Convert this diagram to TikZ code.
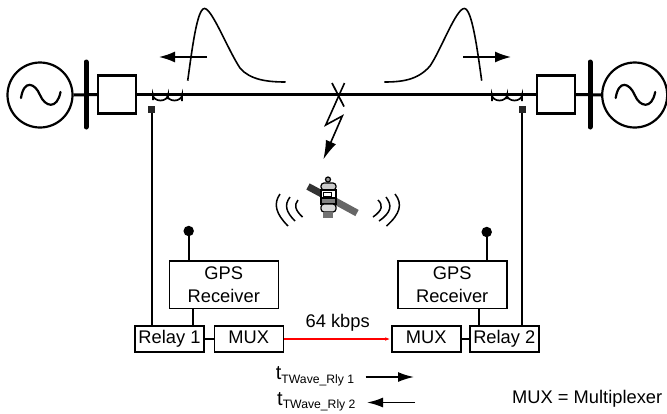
\documentclass[tikz,border=0pt]{standalone}
\usepackage{fontspec}
\setmainfont{Liberation Sans}
\usetikzlibrary{arrows.meta}
\tikzset{
  unitbox/.style={draw,line width=1.6pt,minimum height=26pt,inner sep=0pt,text height=13pt,text depth=4pt,font=\fontsize{18.3}{20}\selectfont},
  gpsbox/.style={draw,line width=1.6pt,minimum width=109pt,minimum height=47.5pt,inner sep=0pt,align=center,font=\fontsize{18.3}{22.7}\selectfont},
  wire/.style={line width=1.7pt},
  mainline/.style={line width=3pt},
  pulse/.style={line width=1.6pt},
  radio/.style={line width=1.5pt},
  sense/.style={fill=black!85,minimum size=7pt,inner sep=0pt},
  txt/.style={font=\fontsize{18.3}{20}\selectfont,inner sep=0pt},
  tlabel/.style={font=\fontsize{20}{22}\selectfont,inner sep=0pt,anchor=base west}
}
\newcommand{\tsub}[1]{\raisebox{-3.5pt}{\fontsize{12.2}{14}\selectfont #1}}
\begin{document}
\begin{tikzpicture}[x=1pt,y=-1pt]
    \useasboundingbox (0,0) rectangle (667,413);

    % generators and buses
    \node[circle,draw,line width=2.2pt,minimum size=65pt,inner sep=0pt] (GL) at (40,95) {};
    \node[circle,draw,line width=2.2pt,minimum size=65pt,inner sep=0pt] (GR) at (634.7,95) {};
    \draw[line width=2.2pt,line cap=round] (21,98) .. controls (24,79) and (35,83) .. (40,95) .. controls (45,107) and (57,110) .. (60.5,92);
    \draw[line width=2.2pt,line cap=round] (615.7,98) .. controls (618.7,79) and (629.7,83) .. (634.7,95) .. controls (639.7,107) and (651.7,110) .. (655.2,92);
    \node[draw,line width=2.4pt,minimum size=38pt,inner sep=0pt] (BKL) at (117,94.5) {};
    \node[draw,line width=2.4pt,minimum size=38pt,inner sep=0pt] (BKR) at (556,94.5) {};

    \draw[mainline] (GL.east) -- (BKL.west);
    \draw[mainline] (BKL.east) -- (BKR.west);
    \draw[mainline] (BKR.east) -- (GR.west);
    \draw[line width=5pt,line cap=round] (86,62) -- (86,127);
    \draw[line width=5pt,line cap=round] (590,62) -- (590,127);

    % current transformers
    \draw[wire] (153,100) -- (153,95) arc[start angle=180,end angle=0,x radius=7.5,y radius=5.5] -- (168,99);
    \draw[wire] (167,95) arc[start angle=180,end angle=0,x radius=7.5,y radius=5.5] -- (182,101);
    \draw[wire] (492,101) -- (492,95) arc[start angle=180,end angle=0,x radius=7.5,y radius=5.5] -- (507,99);
    \draw[wire] (507,95) arc[start angle=180,end angle=0,x radius=7.5,y radius=5.5] -- (522,101);
    \node[sense] (SL) at (151.7,109.5) {};
    \node[sense] (SR) at (522,109.5) {};

    % travelling waves
    \draw[pulse] (187.7,80.7) .. controls (192,50) and (197,8.5) .. (204.5,8.5) .. controls (212,8.5) and (228,50) .. (240,68) .. controls (250,80) and (268,82) .. (285.5,82);
    \draw[pulse] (481.7,80.7) .. controls (477.4,50) and (472,8.5) .. (464.3,8.5) .. controls (456,8.5) and (441,50) .. (430,66) .. controls (418,80) and (402,82) .. (384.3,82);
    \draw[pulse,-{Latex[length=16pt,width=11pt]}] (207,57) -- (159,57);
    \draw[pulse,-{Latex[length=16pt,width=11pt]}] (463,57) -- (511,57);

    % fault and lightning
    \draw[wire] (332,83) -- (344,106.5);
    \draw[line width=1.6pt,-{Latex[length=19pt,width=11pt]}] (344.5,83) -- (325.7,125) -- (342.3,116) -- (323.3,159.5);

    % satellite
    \draw[line width=7pt,black!80] (308,186.5) -- (322,194);
    \draw[line width=7pt,black!60] (335,201) -- (357,213);
    \draw[line width=1.2pt,fill=black!40] (328,179.5) circle (2.5pt);
    \draw[line width=1.2pt,fill=black!20,rounded corners=3pt] (321,183) rectangle (336,190);
    \draw[line width=1.2pt,fill=white] (321,190) rectangle (336,198);
    \draw[line width=1.2pt,fill=black!50] (321,198) rectangle (336,204);
    \draw[line width=1.2pt,fill=black!15,rounded corners=3pt] (321,204) rectangle (336,212);
    \fill[black!55] (323,212) rectangle (333,217.5);
    \draw[line width=.8pt] (323,192) rectangle (331,196);

    % radio waves
    \draw[radio] (288,226) .. controls (276,214) and (273,204) .. (280,194);
    \draw[radio] (295,221) .. controls (286,212) and (284,205) .. (290,197);
    \draw[radio] (302.5,217) .. controls (295,210) and (294,205) .. (298,200);
    \draw[radio] (386.5,226) .. controls (400,214) and (403,204) .. (395,194);
    \draw[radio] (379,221) .. controls (392,212) and (392,205) .. (386,197);
    \draw[radio] (373,217) .. controls (383,210) and (383,205) .. (378,200);

    % relays and multiplexers
    \node[unitbox,minimum width=69pt] (Relay1) at (169.5,339) {Relay 1};
    \node[unitbox,minimum width=69pt] (MUX1) at (248.8,339) {MUX};
    \node[unitbox,minimum width=69pt] (MUX2) at (426.3,339) {MUX};
    \node[unitbox,minimum width=69pt] (Relay2) at (504.3,339) {Relay 2};
    \node[gpsbox] (GPS1) at (223.8,284.8) {GPS\\Receiver};
    \node[gpsbox] (GPS2) at (452.2,284.8) {GPS\\Receiver};

    \draw[wire] (Relay1) -- (MUX1);
    \draw[wire] (MUX2) -- (Relay2);
    \draw[line width=1.6pt,red,-{Latex[length=6pt,width=3.5pt]}] (MUX1) -- (MUX2);
    \node[txt] (rate) at (337.7,323) {64 kbps};

    \draw[wire] (SL.south) -- (SL.south |- Relay1.north);
    \draw[wire] (SR.south) -- (SR.south |- Relay2.north);
    \draw[wire] (193.3,308.5) -- (193.3,326);
    \draw[wire] (479,308.5) -- (479,326);

    % antennas
    \node[circle,fill=black,minimum size=10.5pt,inner sep=0pt] (AL) at (188.7,231) {};
    \node[circle,fill=black,minimum size=10.5pt,inner sep=0pt] (AR) at (486.7,232) {};
    \draw[wire] (AL) -- (AL |- GPS1.north);
    \draw[wire] (AR) -- (AR |- GPS2.north);

    % legend
    \node[tlabel] (T1) at (275.7,379.5) {t\tsub{TWave\_Rly 1}};
    \node[tlabel] (T2) at (277,405) {t\tsub{TWave\_Rly 2}};
    \coordinate (T1a) at (365.5,377);
    \coordinate (T1b) at (414,377);
    \coordinate (T2a) at (415,402.5);
    \coordinate (T2b) at (367,402.5);
    \draw[wire,-{Latex[length=16pt,width=10pt]}] (T1a) -- (T1b);
    \draw[wire,-{Latex[length=16pt,width=10pt]}] (T2a) -- (T2b);
    \node[txt,anchor=base west] (key) at (512,403.5) {MUX = Multiplexer};
\end{tikzpicture}
\end{document}
